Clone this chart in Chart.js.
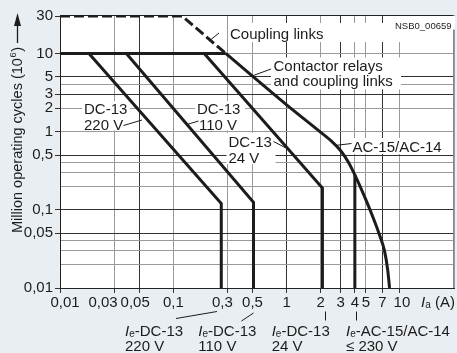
<!DOCTYPE html>
<html><head><meta charset="utf-8">
<script src="https://cdn.jsdelivr.net/npm/chart.js@4.4.0/dist/chart.umd.min.js"></script>
<style>
html,body{margin:0;padding:0;background:#e9eef2;overflow:hidden;}
#wrap{width:457px;height:353px;position:relative;}
</style></head><body>
<div id="wrap"><canvas id="c" width="457" height="353"></canvas></div>
<script>
// ---- axis ticks / grid values ----
const X_GRID = [0.01,0.03,0.05,0.1,0.3,0.5,1,2,3,4,5,7,10,30];
const X_TICK_VALUES = [0.01,0.03,0.05,0.1,0.3,0.5,1,2,3,4,5,7,10];
const X_TICK_LABELS = ['0,01','0,03','0,05','0,1','0,3','0,5','1','2','3','4','5','7','10'];
const X_DARK = [0.05,1,3,7];
const Y_GRID = [0.01,0.02,0.03,0.04,0.05,0.1,0.2,0.3,0.4,0.5,1,2,3,4,5,10,30];
const Y_TICK_VALUES = [0.01,0.05,0.1,0.5,1,2,3,5,10,30];
const Y_TICK_LABELS = ['0,01','0,05','0,1','0,5','1','2','3','5','10','30'];
const Y_DARK = [5,3,0.5,0.1,0.05];

// ---- series (current A, million operating cycles) ----
const COUPLING_X = [0.01, 0.12, 0.29];
const COUPLING_Y = [30, 30, 10];
const BASE10_X = [0.01, 0.29];
const BASE10_Y = [10, 10];
const CONTACTOR_X = [0.29, 1, 2, 2.5, 3, 3.5, 4, 5, 6, 6.7, 7.3, 7.8, 8.1];
const CONTACTOR_Y = [10, 2.2, 0.98, 0.75, 0.57, 0.41, 0.28, 0.135, 0.07, 0.045, 0.03, 0.017, 0.01];
const DC220_X = [0.018, 0.265, 0.265];
const DC220_Y = [10, 0.12, 0.01];
const DC110_X = [0.0385, 0.51, 0.51];
const DC110_Y = [10, 0.125, 0.01];
const DC24_X = [0.1875, 2.07, 2.07];
const DC24_Y = [10, 0.19, 0.01];
const ACIE_X = [4, 4];
const ACIE_Y = [0.28, 0.01];

const F = '"Liberation Sans", Arial, Helvetica, sans-serif';
const INK = '#1c1c1c';
const near = (v, arr) => arr.some(a => Math.abs(Math.log10(v) - Math.log10(a)) < 1e-6);
const labelFor = (v, vals, labs) => { const i = vals.findIndex(a => Math.abs(Math.log10(v) - Math.log10(a)) < 1e-6); return i < 0 ? '' : labs[i]; };

const ds = (label, xs, ys, extra) => Object.assign({
  label, data: xs.map((x, i) => ({x, y: ys[i]})),
  showLine: true, pointRadius: 0, borderColor: INK, borderWidth: 3,
  fill: false, tension: 0
}, extra || {});

function line(ctx, x1, y1, x2, y2) { ctx.beginPath(); ctx.moveTo(x1, y1); ctx.lineTo(x2, y2); ctx.stroke(); }

function drawIe(ctx, x, y, rest) {
  ctx.font = 'italic 15px ' + F; ctx.fillText('I', x, y);
  const w1 = ctx.measureText('I').width;
  ctx.font = '10px ' + F; ctx.fillText('e', x + w1, y + 1);
  const w2 = ctx.measureText('e').width;
  ctx.font = '15px ' + F; ctx.fillText(rest, x + w1 + w2, y);
}

const deco = {
  id: 'deco',
  beforeDraw(chart) {
    const {ctx, chartArea: a} = chart;
    ctx.save();
    ctx.fillStyle = '#e9eef2'; ctx.fillRect(0, 0, chart.width, chart.height);
    ctx.fillStyle = '#ffffff'; ctx.fillRect(a.left, a.top, a.right - a.left, a.bottom - a.top);
    ctx.restore();
  },
  beforeDatasetsDraw(chart) {
    const {ctx, chartArea: a} = chart;
    ctx.save();
    ctx.lineWidth = 1;
    ctx.strokeStyle = '#222'; line(ctx, a.left, a.top + 0.5, a.right, a.top + 0.5);
    ctx.strokeStyle = '#888'; line(ctx, Math.round(a.right) - 0.5, a.top, Math.round(a.right) - 0.5, a.bottom);
    // white label backgrounds (interrupt grid lines)
    ctx.fillStyle = '#ffffff';
    [[229,23,171,19],[271,57.5,130,32],[393,16,62,13.5],[82,101,48,29.5],[195,101,50,29.5],[226.5,133,49,31],[350.5,138,97,16]]
      .forEach(b => ctx.fillRect(b[0], b[1], b[2], b[3]));
    ctx.fillStyle = INK; ctx.textAlign = 'left'; ctx.textBaseline = 'alphabetic';
    ctx.font = '15px ' + F;
    ctx.fillText('Coupling links', 230, 38.5);
    ctx.fillText('Contactor relays', 273.5, 71);
    ctx.fillText('and coupling links', 273.5, 86);
    ctx.fillText('DC-13', 84, 114); ctx.fillText('220 V', 84, 129.5);
    ctx.fillText('DC-13', 197, 114); ctx.fillText('110 V', 199, 129.5);
    ctx.fillText('DC-13', 228.5, 146.5); ctx.fillText('24 V', 228.5, 162.5);
    ctx.fillText('AC-15/AC-14', 352.5, 151.5);
    ctx.font = '9.5px ' + F;
    ctx.fillText('NSB0_00659', 395, 29);
    ctx.strokeStyle = INK; ctx.lineWidth = 1;
    line(ctx, 209, 41, 219, 33);
    line(ctx, 252, 76, 271, 69);
    line(ctx, 123.5, 125.5, 142, 120);
    line(ctx, 187, 124.5, 198.5, 121);
    line(ctx, 273.5, 141.5, 287, 148.5);
    line(ctx, 335, 145.5, 351.5, 143.5);
    ctx.restore();
  },
  afterDraw(chart) {
    const {ctx} = chart;
    const xs = chart.scales.x;
    ctx.save();
    ctx.fillStyle = INK; ctx.textBaseline = 'alphabetic';
    // x tick labels
    const nudge = {0: 5, 1: -11, 2: -4, 4: -5, 12: 2};
    ctx.font = '15px ' + F; ctx.textAlign = 'center';
    X_TICK_VALUES.forEach((v, i) => {
      ctx.fillText(X_TICK_LABELS[i], xs.getPixelForValue(v) + (nudge[i] || 0), 306.5);
    });
    // x axis title  I_a (A)
    ctx.textAlign = 'left';
    ctx.font = 'italic 15px ' + F; ctx.fillText('I', 421, 306.5);
    let w = ctx.measureText('I').width;
    ctx.font = '10px ' + F; ctx.fillText('a', 421 + w, 307.5);
    w += ctx.measureText('a').width;
    ctx.font = '15px ' + F; ctx.fillText(' (A)', 421 + w, 306.5);
    // bottom Ie labels
    drawIe(ctx, 125, 335.5, '-DC-13'); ctx.fillText('220 V', 125, 350.5);
    drawIe(ctx, 198.3, 335.5, '-DC-13'); ctx.fillText('110 V', 198.3, 350.5);
    drawIe(ctx, 271.7, 335.5, '-DC-13'); ctx.fillText('24 V', 271.7, 350.5);
    drawIe(ctx, 346, 335.5, '-AC-15/AC-14'); ctx.fillText('\u2264 230 V', 346, 350.5);
    ctx.strokeStyle = INK; ctx.lineWidth = 1;
    line(ctx, 176, 318.5, 217, 311.5);
    line(ctx, 241.5, 321, 253.5, 313);
    line(ctx, 325.5, 311.5, 325.5, 320.5);
    line(ctx, 356.5, 311.5, 356.5, 320.5);
    // y axis title
    ctx.translate(22, 233); ctx.rotate(-Math.PI / 2);
    ctx.font = '14.5px ' + F;
    const t1 = 'Million operating cycles (10';
    ctx.fillText(t1, 0, 0);
    let rx = ctx.measureText(t1).width;
    ctx.font = '9.5px ' + F; ctx.fillText('6', rx + 0.5, -6);
    rx += ctx.measureText('6').width + 1;
    ctx.font = '14.5px ' + F; ctx.fillText(')', rx, 0);
    rx += ctx.measureText(')').width;
    ctx.lineWidth = 1.3;
    line(ctx, rx + 4, -4.5, 210, -4.5);
    ctx.beginPath(); ctx.moveTo(220, -4.5); ctx.lineTo(207, -8); ctx.lineTo(207, -1); ctx.closePath(); ctx.fill();
    ctx.restore();
  }
};

new Chart(document.getElementById('c'), {
  type: 'scatter',
  data: { datasets: [
    ds('Coupling links', COUPLING_X, COUPLING_Y, {borderDash: [10, 4]}),
    ds('Contactor relays 10', BASE10_X, BASE10_Y),
    ds('Contactor relays and coupling links / AC-15/AC-14', CONTACTOR_X, CONTACTOR_Y, {cubicInterpolationMode: 'monotone'}),
    ds('DC-13 220 V', DC220_X, DC220_Y),
    ds('DC-13 110 V', DC110_X, DC110_Y),
    ds('DC-13 24 V', DC24_X, DC24_Y),
    ds('Ie AC-15/AC-14', ACIE_X, ACIE_Y)
  ]},
  options: {
    responsive: false, animation: false, events: [],
    layout: { padding: { top: 15, right: 1, left: 0, bottom: 0 } },
    plugins: { legend: { display: false }, tooltip: { enabled: false } },
    scales: {
      x: {
        type: 'logarithmic', min: 0.01, max: 30,
        afterBuildTicks: s => { s.ticks = X_GRID.map(v => ({value: v})); },
        afterFit: s => { s.height = 65; },
        ticks: { autoSkip: false, maxRotation: 0, callback: () => '', font: {family: F, size: 15} },
        grid: {
          lineWidth: 1, tickLength: 5,
          color: c => (c.tick && near(c.tick.value, X_DARK)) ? '#333333' : '#9a9a9a',
          tickColor: c => (c.tick && near(c.tick.value, X_TICK_VALUES)) ? '#333333' : 'rgba(0,0,0,0)'
        },
        border: { display: true, color: '#222', width: 1 }
      },
      y: {
        type: 'logarithmic', min: 0.01, max: 31,
        afterBuildTicks: s => { s.ticks = Y_GRID.map(v => ({value: v})); },
        afterFit: s => { s.width = 60; },
        ticks: { autoSkip: false, padding: 2, color: INK, font: {family: F, size: 15},
          callback: v => labelFor(v, Y_TICK_VALUES, Y_TICK_LABELS) },
        grid: {
          lineWidth: 1, tickLength: 5,
          color: c => {
            if (!c.tick) return '#9a9a9a';
            if (near(c.tick.value, [30])) return 'rgba(0,0,0,0)';
            return near(c.tick.value, Y_DARK) ? '#333333' : '#9a9a9a';
          },
          tickColor: c => (c.tick && near(c.tick.value, Y_TICK_VALUES)) ? '#333333' : 'rgba(0,0,0,0)'
        },
        border: { display: true, color: '#222', width: 1 }
      }
    }
  },
  plugins: [deco]
});
</script>
</body></html>
